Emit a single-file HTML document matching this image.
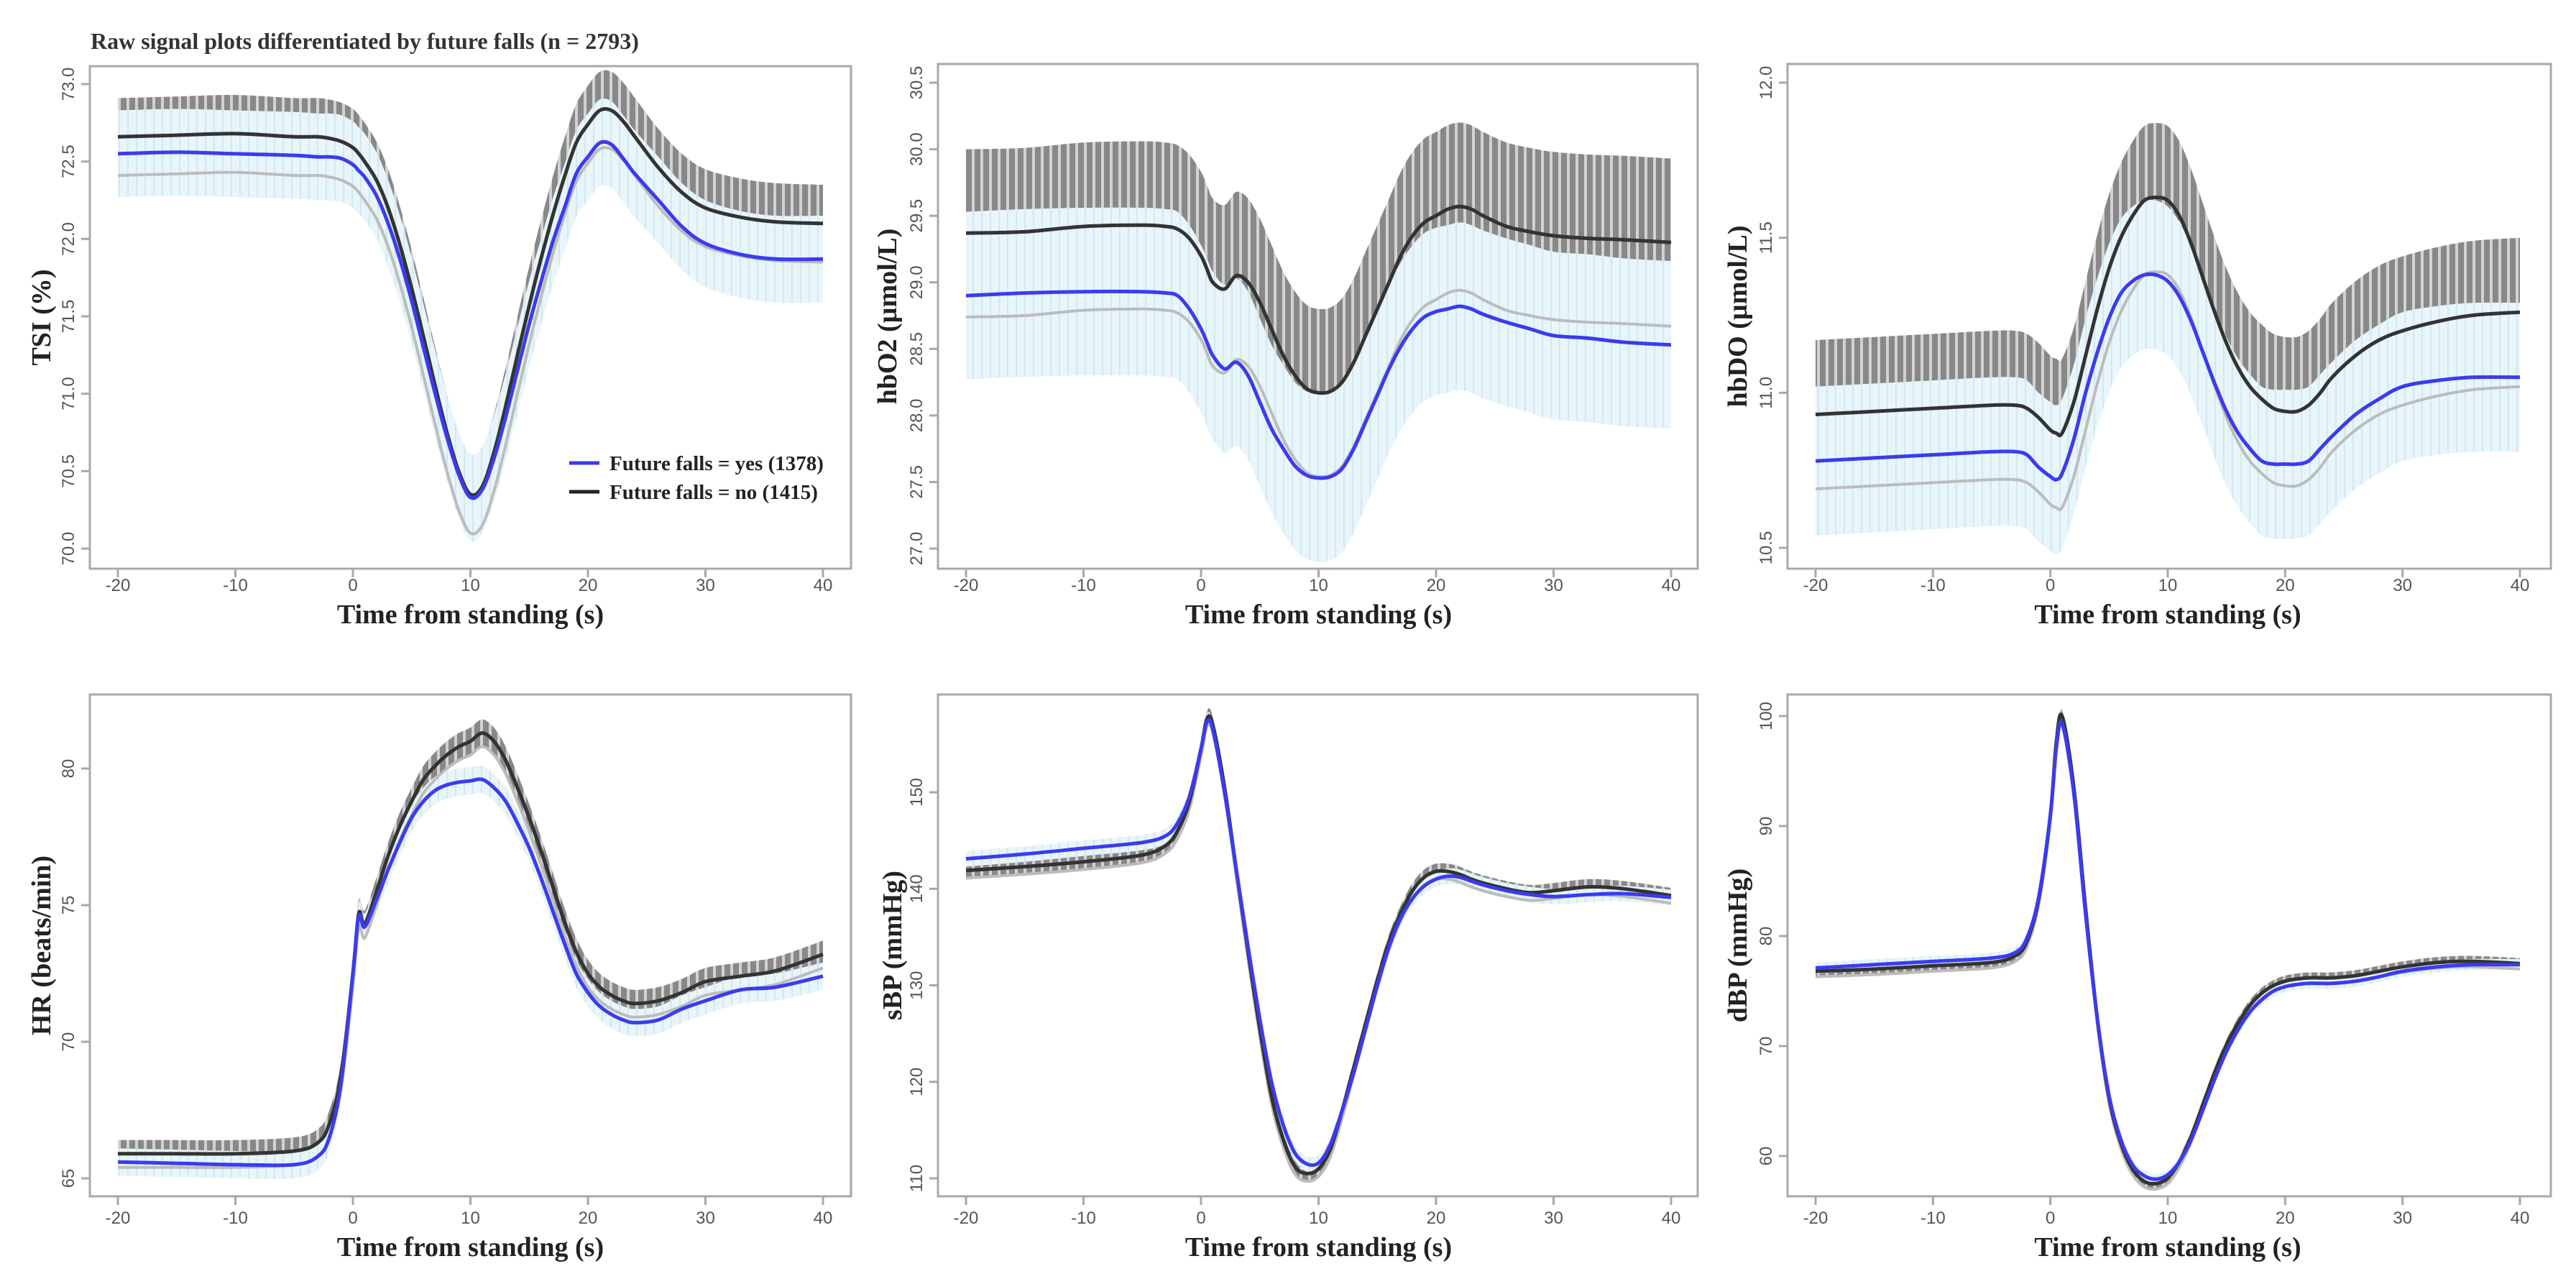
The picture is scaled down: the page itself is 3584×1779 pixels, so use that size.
<!DOCTYPE html>
<html>
<head>
<meta charset="utf-8">
<style>
  html, body { margin: 0; padding: 0; background: #fff; }
  svg { display: block; }
  .tick { font-family: "Liberation Sans", sans-serif; font-size: 24px; fill: #555; }
  .axt { font-family: "Liberation Serif", serif; font-weight: bold; font-size: 38px; fill: #222; }
  .ttl { font-family: "Liberation Serif", serif; font-weight: bold; font-size: 32px; fill: #333; }
  .leg { font-family: "Liberation Serif", serif; font-weight: bold; font-size: 29px; fill: #222; }
</style>
</head>
<body>
<svg id="fig" width="3584" height="1779" viewBox="0 0 3584 1779" xmlns="http://www.w3.org/2000/svg">
  <defs>
    <pattern id="grayHatch" patternUnits="userSpaceOnUse" width="12" height="10">
      <rect width="12" height="10" fill="#888888"/>
      <rect x="8" width="4" height="10" fill="#d2d2d2"/>
    </pattern>
    <pattern id="blueHatch" patternUnits="userSpaceOnUse" width="12" height="10">
      <rect width="12" height="10" fill="#e8f5fa"/>
      <rect x="9" width="2" height="10" fill="#d2e8f1"/>
    </pattern>
  </defs>
  <text class="ttl" x="126" y="68">Raw signal plots differentiated by future falls (n = 2793)</text>
</svg>
<script>
// shared time axis (s)
const T = [-20,-15,-10,-5,-3,-2,-1,0,0.5,1,2,3,4,5,6,7,8,9,10,11,12,13,14,15,16,17,18,19,20,21,22,23,24,26,28,30,33,36,40];
const xTicks = [-20,-10,0,10,20,30,40];

// TSI (%)
const tsiYes = [72.55,72.56,72.55,72.54,72.53,72.53,72.52,72.48,72.44,72.4,72.28,72.1,71.87,71.6,71.3,71.0,70.72,70.48,70.33,70.38,70.58,70.85,71.15,71.45,71.72,71.98,72.2,72.42,72.53,72.62,72.61,72.52,72.42,72.25,72.08,71.97,71.9,71.87,71.87];
const tsiNo  = [72.66,72.67,72.68,72.66,72.66,72.65,72.63,72.59,72.55,72.5,72.38,72.2,71.96,71.68,71.37,71.05,70.75,70.5,70.35,70.4,70.62,70.92,71.25,71.57,71.87,72.15,72.4,72.62,72.74,72.83,72.83,72.76,72.66,72.46,72.3,72.2,72.14,72.11,72.1];
const tsiSdYes = [0.28];
const tsiSdNo = [0.25];
const tsiTicks = [70.0,70.5,71.0,71.5,72.0,72.5,73.0];

// hbO2
const o2Yes = [28.9,28.92,28.93,28.93,28.92,28.9,28.8,28.65,28.55,28.45,28.35,28.4,28.3,28.1,27.9,27.75,27.62,27.55,27.53,27.54,27.6,27.75,27.95,28.15,28.35,28.52,28.65,28.74,28.78,28.8,28.82,28.8,28.76,28.7,28.65,28.6,28.58,28.55,28.53];
const o2No  = [29.37,29.38,29.42,29.43,29.42,29.4,29.33,29.2,29.1,29.0,28.95,29.05,29.0,28.85,28.65,28.45,28.3,28.2,28.17,28.18,28.25,28.4,28.6,28.8,29.0,29.2,29.35,29.45,29.5,29.55,29.57,29.55,29.5,29.42,29.38,29.35,29.33,29.32,29.3];
const o2SdYes = [0.63];
const o2SdNo = [0.63];
const o2Ticks = [27.0,27.5,28.0,28.5,29.0,29.5,30.0,30.5];

// hbDO
const doYes = [10.78,10.79,10.8,10.81,10.81,10.8,10.76,10.73,10.72,10.74,10.85,11.0,11.13,11.24,11.32,11.36,11.38,11.38,11.36,11.31,11.23,11.13,11.03,10.94,10.87,10.82,10.78,10.77,10.77,10.77,10.78,10.82,10.86,10.93,10.98,11.02,11.04,11.05,11.05];
const doNo  = [10.93,10.94,10.95,10.96,10.96,10.95,10.92,10.88,10.87,10.87,10.97,11.12,11.27,11.4,11.5,11.57,11.62,11.63,11.62,11.57,11.48,11.37,11.26,11.16,11.08,11.02,10.98,10.95,10.94,10.94,10.96,11.0,11.05,11.12,11.17,11.2,11.23,11.25,11.26];
const doSdYes = [0.24];
const doSdNo = [0.24];
const doTicks = [10.5,11.0,11.5,12.0];

// HR
const hrYes = [65.6,65.55,65.5,65.5,65.8,66.5,68.5,72.5,74.6,74.2,75.2,76.3,77.3,78.2,78.8,79.2,79.4,79.5,79.55,79.6,79.3,78.8,78.0,77.1,76.0,74.8,73.6,72.5,71.8,71.3,71.0,70.8,70.7,70.8,71.2,71.5,71.9,72.0,72.4];
const hrNo  = [65.9,65.9,65.9,66.0,66.3,67.0,68.8,72.5,74.7,74.3,75.5,76.8,77.9,78.8,79.6,80.1,80.5,80.8,81.0,81.3,81.0,80.3,79.3,78.2,77.0,75.7,74.4,73.3,72.5,72.0,71.7,71.5,71.4,71.5,71.8,72.2,72.4,72.6,73.2];
const hrSdYes = [0.5];
const hrSdNo = [0.5];
const hrTicks = [65,70,75,80];

// sBP
const sbpYes = [143.1,143.6,144.2,144.8,145.5,146.8,149.5,154.5,157.3,156.5,150,142,134,126.5,120,115.5,112.6,111.5,111.6,113.5,117,121,125.5,130,134,137,139,140.3,141,141.3,141.2,140.8,140.4,139.8,139.4,139.2,139.4,139.5,139.1];
const sbpNo  = [141.9,142.3,142.8,143.5,144.5,146,149,154.5,157.6,157,150.5,142,133.5,125.5,118.5,114,111.2,110.5,111,113,117,121.5,126,130.5,134.5,137.5,139.8,141.2,141.8,141.8,141.5,141,140.6,140,139.6,139.8,140.2,140,139.3];
const sbpSdYes = [0.8];
const sbpSdNo = [0.8];
const sbpTicks = [110,120,130,140,150];

// dBP
const dbpYes = [77.1,77.4,77.7,78.0,78.5,79.8,83.5,91,97,99.3,93,82,72.5,65.5,61.5,59.2,58.2,57.9,58.3,59.5,61.5,64.2,67,69.5,71.5,73.1,74.2,75.0,75.4,75.6,75.7,75.7,75.7,75.9,76.3,76.8,77.2,77.4,77.4];
const dbpNo  = [76.8,77.0,77.3,77.6,78.2,79.5,83.3,91,97.5,100,93.5,82.5,72.5,65.3,61.2,58.8,57.7,57.5,58,59.5,61.8,64.7,67.6,70.1,72.1,73.7,74.8,75.5,75.9,76.1,76.2,76.2,76.2,76.4,76.8,77.2,77.6,77.7,77.5];
const dbpSdYes = [0.5];
const dbpSdNo = [0.5];
const dbpTicks = [60,70,80,90,100];

const NS = 'http://www.w3.org/2000/svg';
const svg = document.getElementById('fig');
function mk(tag, attrs, parent) {
  const e = document.createElementNS(NS, tag);
  for (const k in attrs) e.setAttribute(k, attrs[k]);
  (parent || svg).appendChild(e);
  return e;
}
function smoothPath(pts) {
  let d = 'M' + pts[0][0].toFixed(1) + ',' + pts[0][1].toFixed(1);
  for (let i = 0; i < pts.length - 1; i++) {
    const p0 = pts[Math.max(0, i - 1)], p1 = pts[i], p2 = pts[i + 1], p3 = pts[Math.min(pts.length - 1, i + 2)];
    const c1x = p1[0] + (p2[0] - p0[0]) / 6, c1y = p1[1] + (p2[1] - p0[1]) / 6;
    const c2x = p2[0] - (p3[0] - p1[0]) / 6, c2y = p2[1] - (p3[1] - p1[1]) / 6;
    d += 'C' + c1x.toFixed(1) + ',' + c1y.toFixed(1) + ' ' + c2x.toFixed(1) + ',' + c2y.toFixed(1) + ' ' + p2[0].toFixed(1) + ',' + p2[1].toFixed(1);
  }
  return d;
}
function fmt(v, dec) { return dec ? v.toFixed(1) : String(v); }

function panel(cfg) {
  const g = mk('g', {});
  
  
  const [L, Tp, R, B] = cfg.box;
  const xs = v => cfg.x0 + (v + 20) / 60 * (cfg.x1 - cfg.x0);
  const ys = v => cfg.py1 + (v - cfg.v1) / (cfg.v2 - cfg.v1) * (cfg.py2 - cfg.py1);
  const sdY = cfg.sdYes[0], sdN = cfg.sdNo[0];
  const up = (arr, sd) => T.map((t, i) => [xs(t), ys(arr[i] + sd)]);
  const lo = (arr, sd) => T.map((t, i) => [xs(t), ys(arr[i] - sd)]);
  function band(arr, sd, fill, name) {
    const u = up(arr, sd), l = lo(arr, sd).reverse();
    let d = smoothPath(u);
    d += 'L' + l[0][0].toFixed(1) + ',' + l[0][1].toFixed(1) + smoothPath(l).replace(/^M[^C]*/, '') + 'Z';
    const p = mk('path', { d: d, fill: fill, stroke: 'none' }, g);
    
    
  }
  band(cfg.no, sdN, 'url(#grayHatch)', 'no-falls-band');
  band(cfg.yes, sdY, 'url(#blueHatch)', 'yes-falls-band');
  const nl = mk('path', { d: smoothPath(lo(cfg.no, sdN)), fill: 'none', stroke: '#bcbcbc', 'stroke-width': 4 }, g);
  
  
  const nm = mk('path', { d: smoothPath(T.map((t, i) => [xs(t), ys(cfg.no[i])])), fill: 'none', stroke: '#333', 'stroke-width': 5 }, g);
  
  
  const ym = mk('path', { d: smoothPath(T.map((t, i) => [xs(t), ys(cfg.yes[i])])), fill: 'none', stroke: '#3b3bf0', 'stroke-width': 5 }, g);
  
  
  const bx = mk('rect', { x: L, y: Tp, width: R - L, height: B - Tp, fill: 'none', stroke: '#a8a8a8', 'stroke-width': 3 }, g);
  
  
  xTicks.forEach(v => {
    const x = xs(v);
    mk('line', { x1: x, y1: B, x2: x, y2: B + 12, stroke: '#a8a8a8', 'stroke-width': 3 }, g);
    const t = mk('text', { x: x, y: cfg.xtY, 'text-anchor': 'middle', class: 'tick' }, g);
    t.textContent = v;
    
    
  });
  cfg.ticks.forEach(v => {
    const y = ys(v);
    mk('line', { x1: L - 12, y1: y, x2: L, y2: y, stroke: '#a8a8a8', 'stroke-width': 3 }, g);
    const tx = L - 22;
    const t = mk('text', { x: tx, y: y, 'text-anchor': 'middle', class: 'tick', transform: 'rotate(-90 ' + tx + ' ' + y + ')' }, g);
    t.textContent = fmt(v, cfg.dec);
    
    
  });
  const xt = mk('text', { x: (cfg.x0 + cfg.x1) / 2, y: cfg.xtY + 45, 'text-anchor': 'middle', class: 'axt' }, g);
  xt.textContent = 'Time from standing (s)';
  
  
  const cy = (Tp + B) / 2, lx = cfg.ylx;
  const yt = mk('text', { x: lx, y: cy, 'text-anchor': 'middle', class: 'axt', transform: 'rotate(-90 ' + lx + ' ' + cy + ')' }, g);
  yt.textContent = cfg.ylabel;
  
  
}

panel({ name: 'tsi-panel', box: [125,92,1184,791], x0: 164, x1: 1145, v1: 73, py1: 117, v2: 70, py2: 763, ticks: tsiTicks, dec: true, yes: tsiYes, no: tsiNo, sdYes: tsiSdYes, sdNo: tsiSdNo, xtY: 822, ylx: 70, ylabel: 'TSI (%)' });
panel({ name: 'hbo2-panel', box: [1305,89,2362,791], x0: 1344, x1: 2325, v1: 30.5, py1: 115, v2: 27, py2: 763, ticks: o2Ticks, dec: true, yes: o2Yes, no: o2No, sdYes: o2SdYes, sdNo: o2SdNo, xtY: 822, ylx: 1247, ylabel: 'hbO2 (µmol/L)' });
panel({ name: 'hbdo-panel', box: [2487,89,3549,791], x0: 2526, x1: 3506, v1: 12, py1: 115, v2: 10.5, py2: 762, ticks: doTicks, dec: true, yes: doYes, no: doNo, sdYes: doSdYes, sdNo: doSdNo, xtY: 822, ylx: 2430, ylabel: 'hbDO (µmol/L)' });
panel({ name: 'hr-panel', box: [125,966,1184,1664], x0: 164, x1: 1145, v1: 80, py1: 1069, v2: 65, py2: 1639, ticks: hrTicks, dec: false, yes: hrYes, no: hrNo, sdYes: hrSdYes, sdNo: hrSdNo, xtY: 1702, ylx: 70, ylabel: 'HR (beats/min)' });
panel({ name: 'sbp-panel', box: [1305,966,2362,1664], x0: 1344, x1: 2325, v1: 150, py1: 1102, v2: 110, py2: 1639, ticks: sbpTicks, dec: false, yes: sbpYes, no: sbpNo, sdYes: sbpSdYes, sdNo: sbpSdNo, xtY: 1702, ylx: 1254, ylabel: 'sBP (mmHg)' });
panel({ name: 'dbp-panel', box: [2487,966,3549,1664], x0: 2526, x1: 3506, v1: 100, py1: 996, v2: 60, py2: 1608, ticks: dbpTicks, dec: false, yes: dbpYes, no: dbpNo, sdYes: dbpSdYes, sdNo: dbpSdNo, xtY: 1702, ylx: 2430, ylabel: 'dBP (mmHg)' });

const lg = mk('g', {});


mk('line', { x1: 792, y1: 644, x2: 834, y2: 644, stroke: '#3b3bf0', 'stroke-width': 5 }, lg);
mk('line', { x1: 792, y1: 684, x2: 834, y2: 684, stroke: '#222', 'stroke-width': 5 }, lg);
const l1 = mk('text', { x: 848, y: 654, class: 'leg' }, lg);
l1.textContent = 'Future falls = yes (1378)';


const l2 = mk('text', { x: 848, y: 694, class: 'leg' }, lg);
l2.textContent = 'Future falls = no (1415)';


</script>
</body>
</html>
